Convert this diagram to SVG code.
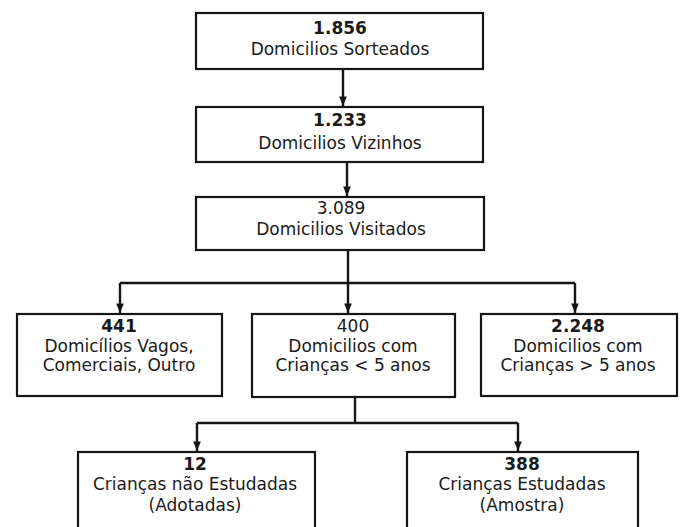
<svg xmlns="http://www.w3.org/2000/svg" width="685" height="527" viewBox="0 0 685 527">
<defs>
<style>
.box{fill:#fff;stroke:#151515;stroke-width:2.2}
.t{font-family:"DejaVu Sans","Liberation Sans",sans-serif;font-size:17px;fill:#1a1a1a;text-anchor:middle}
.n{font-weight:bold}
.c{fill:none;stroke:#151515;stroke-width:2.4}
</style>
<marker id="ah" viewBox="0 0 10 10" refX="10" refY="5" markerWidth="4" markerHeight="4" orient="auto" markerUnits="strokeWidth">
<path d="M0,1 L10,5 L0,9 Z" fill="#151515"/>
</marker>
</defs>
<rect width="685" height="527" fill="#fff"/>
<g id="connectors">
<path class="c" d="M343,69 V106" marker-end="url(#ah)"/>
<path class="c" d="M347,162 V196" marker-end="url(#ah)"/>
<path class="c" d="M348,250 V283"/>
<path class="c" d="M120,283 H575"/>
<path class="c" d="M120,283 V313" marker-end="url(#ah)"/>
<path class="c" d="M348,283 V313" marker-end="url(#ah)"/>
<path class="c" d="M575,283 V313" marker-end="url(#ah)"/>
<path class="c" d="M355,397 V423"/>
<path class="c" d="M197,423 H518"/>
<path class="c" d="M197,423 V451" marker-end="url(#ah)"/>
<path class="c" d="M518,423 V451" marker-end="url(#ah)"/>
</g>
<g id="n1">
<rect class="box" x="196" y="13" width="287" height="56"/>
<text class="t n" x="340" y="34">1.856</text>
<text class="t" x="340" y="55">Domicilios Sorteados</text>
</g>
<g id="n2">
<rect class="box" x="196" y="107" width="287" height="55"/>
<text class="t n" x="340" y="126">1.233</text>
<text class="t" x="340" y="149">Domicilios Vizinhos</text>
</g>
<g id="n3">
<rect class="box" x="196" y="197" width="288" height="53"/>
<text class="t" x="341" y="214">3.089</text>
<text class="t" x="341" y="235">Domicilios Visitados</text>
</g>
<g id="n4">
<rect class="box" x="17" y="314" width="205" height="82"/>
<text class="t n" x="119" y="332">441</text>
<text class="t" x="119" y="352">Domicílios Vagos,</text>
<text class="t" x="119" y="371">Comerciais, Outro</text>
</g>
<g id="n5">
<rect class="box" x="252" y="314" width="203" height="83"/>
<text class="t" x="353" y="332">400</text>
<text class="t" x="353" y="352">Domicilios com</text>
<text class="t" x="353" y="371">Crianças  &lt; 5 anos</text>
</g>
<g id="n6">
<rect class="box" x="481" y="314" width="196" height="82"/>
<text class="t n" x="578" y="332">2.248</text>
<text class="t" x="578" y="352">Domicilios com</text>
<text class="t" x="578" y="371">Crianças  &gt; 5 anos</text>
</g>
<g id="n7">
<rect class="box" x="78" y="452" width="237" height="90"/>
<text class="t n" x="195" y="470">12</text>
<text class="t" x="195" y="490">Crianças não Estudadas</text>
<text class="t" x="195" y="511">(Adotadas)</text>
</g>
<g id="n8">
<rect class="box" x="407" y="452" width="231" height="90"/>
<text class="t n" x="522" y="470">388</text>
<text class="t" x="522" y="490">Crianças Estudadas</text>
<text class="t" x="522" y="511">(Amostra)</text>
</g>
</svg>
